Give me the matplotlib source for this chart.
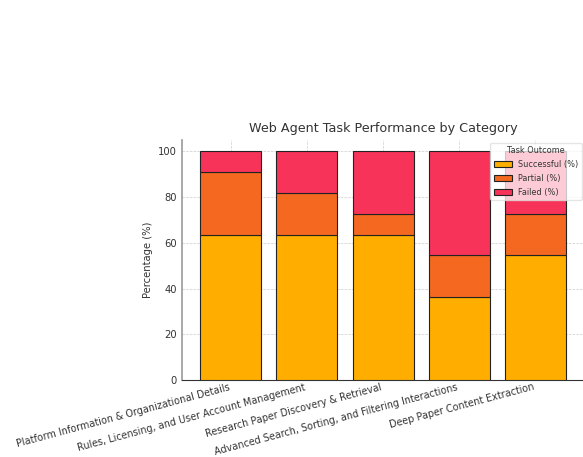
import numpy as np
import matplotlib.pyplot as plt

categories = [
    "Platform Information & Organizational Details",
    "Rules, Licensing, and User Account Management",
    "Research Paper Discovery & Retrieval",
    "Advanced Search, Sorting, and Filtering Interactions",
    "Deep Paper Content Extraction",
]
successful = [63.6, 63.6, 63.6, 36.4, 54.5]
partial = [27.3, 18.2, 9.1, 18.2, 18.2]
failed = [9.1, 18.2, 27.3, 45.5, 27.3]

colors = ["#FFAE00", "#F4691F", "#F7335A"]

fig = plt.figure(figsize=(5.83, 4.57), dpi=100)
ax = fig.add_axes([0.312, 0.1685, 0.69, 0.525])

x = np.arange(len(categories))
s = np.array(successful)
p = np.array(partial)
f = np.array(failed)
ax.bar(x, s, width=0.8, color=colors[0], edgecolor="#222222", linewidth=0.8,
       label="Successful (%)", zorder=3)
ax.bar(x, p, width=0.8, bottom=s, color=colors[1], edgecolor="#222222",
       linewidth=0.8, label="Partial (%)", zorder=3)
ax.bar(x, f, width=0.8, bottom=s + p, color=colors[2], edgecolor="#222222",
       linewidth=0.8, label="Failed (%)", zorder=3)

ax.set_ylim(0, 105)
ax.set_xticks(x)
ax.set_xticklabels(categories, rotation=15, ha="right", fontsize=6.9, color="#333333")
ax.tick_params(axis="y", labelsize=7.2, labelcolor="#333333", length=0)
ax.tick_params(axis="x", length=0, pad=1.5)
ax.set_ylabel("Percentage (%)", fontsize=7.2, color="#333333")
ax.set_title("Web Agent Task Performance by Category", fontsize=9.2, color="#333333")

ax.grid(True, linestyle="--", linewidth=0.5, color="#cccccc", zorder=0)
for side in ["top", "right"]:
    ax.spines[side].set_visible(False)
ax.spines["left"].set_color("#999999")
ax.spines["left"].set_linewidth(1.2)
ax.spines["bottom"].set_color("#333333")

leg = ax.legend(title="Task Outcome", loc="upper right", fontsize=5.9,
                title_fontsize=5.9, framealpha=0.75, edgecolor="#dddddd",
                borderaxespad=0.3, handlelength=2.2, labelspacing=0.6)
for t in leg.get_texts():
    t.set_color("#333333")
leg.get_title().set_color("#333333")

fig.savefig("out.png", dpi=100)
